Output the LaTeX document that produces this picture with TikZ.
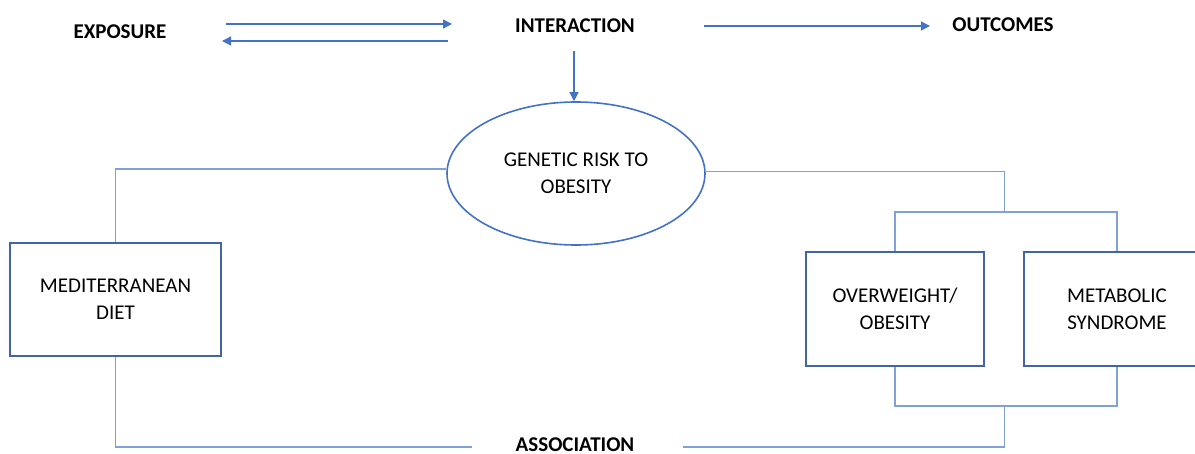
\documentclass[tikz,border=0pt]{standalone}
\usepackage{fontspec}
\setmainfont{Carlito}
\usetikzlibrary{arrows.meta,shapes.geometric}
\definecolor{boxblue}{RGB}{66,101,170}
\definecolor{linkblue}{RGB}{128,160,218}
\definecolor{arrowblue}{RGB}{68,114,196}
\begin{document}
\begin{tikzpicture}[x=1pt,y=-1pt,
  title/.style={font=\fontsize{21}{25}\selectfont\bfseries, inner sep=0pt, anchor=base},
  boxnode/.style={draw=boxblue, line width=1.8pt, rectangle, inner sep=0pt,
    align=center, font=\fontsize{21}{27}\selectfont},
  link/.style={draw=linkblue, line width=1.4pt},
  flow/.style={draw=arrowblue, line width=1.3pt, -{Triangle[length=9pt,width=9pt]}}]
\useasboundingbox (0,0) rectangle (1195,454);
\clip (0,0) rectangle (1195,454);

% headings
\node[title] (expo)  at (120,39)  {EXPOSURE};
\node[title] (inter) at (575,33)  {INTERACTION};
\node[title] (out)   at (1003,32) {OUTCOMES};
\node[title] (assoc) at (575,451) {ASSOCIATION};

% central ellipse and boxes
\node[ellipse, draw=arrowblue, line width=1.6pt, minimum width=258pt, minimum height=143pt,
  inner sep=0pt, align=center, font=\fontsize{21}{27}\selectfont] (ell) at (576,173.5)
  {GENETIC RISK TO\\OBESITY};
\node[boxnode, minimum width=211pt, minimum height=113pt] (med) at (115.5,299.5) {MEDITERRANEAN\\DIET};
\node[boxnode, minimum width=178pt, minimum height=114pt] (ow)  at (895,309)  {OVERWEIGHT/\\OBESITY};
\node[boxnode, minimum width=186pt, minimum height=114pt] (met) at (1117,309) {METABOLIC\\SYNDROME};

% arrow ends
\coordinate (e2iA) at (226,24);
\coordinate (e2iB) at (452,24);
\coordinate (i2eA) at (448,41);
\coordinate (i2eB) at (222,41);
\coordinate (i2oA) at (704,26);
\coordinate (i2oB) at (930,26);
\coordinate (intdown) at (574,51);

\draw[flow] (e2iA) -- (e2iB);
\draw[flow] (i2eA) -- (i2eB);
\draw[flow] (i2oA) -- (i2oB);
\draw[flow] (intdown) -- (intdown |- ell.north);

% junction points of the connectors
\coordinate (topjoin) at (1004.5,213);
\coordinate (botjoin) at (1004.5,405);
\coordinate (al) at (472,447);
\coordinate (ar) at (683,447);

\draw[link] (ell.178.5) -| (med.north);
\draw[link] (ell.1.5) -| (topjoin);
\draw[link] (ow.north) -- ++(0,-39) -| (met.north);
\draw[link] (ow.south) -- ++(0,39) -| (met.south);
\draw[link] (botjoin) |- (ar);
\draw[link] (med.south) |- (al);
\end{tikzpicture}
\end{document}
